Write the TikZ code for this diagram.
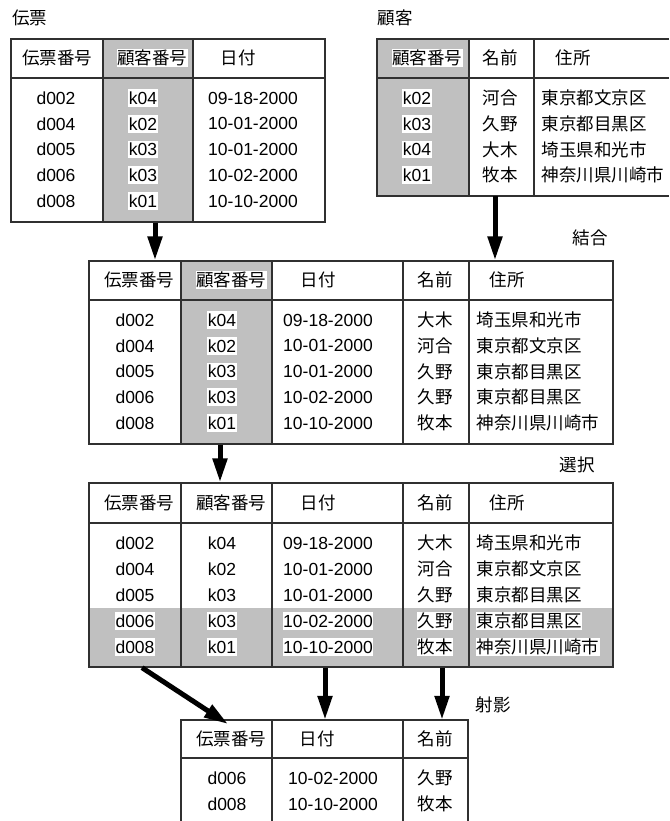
\documentclass[tikz,border=0pt]{standalone}
\usepackage{fontspec}
\setmainfont{Liberation Sans}
\newfontfamily\jp{Noto Sans CJK JP}
\usetikzlibrary{arrows.meta}
\definecolor{cellgray}{HTML}{C0C0C0}
\definecolor{linec}{HTML}{303030}
\tikzset{
  tline/.style={draw=linec, line width=1.3pt},
  tbox/.style={draw=linec, line width=1.3pt, inner sep=0pt},
  obox/.style={inner sep=0pt},
  lt/.style={font=\fontsize{17.5}{20}\selectfont, inner xsep=0.5pt, inner ysep=2.5pt},
  jt/.style={font=\jp\fontsize{17.5}{20}\selectfont, inner xsep=0.5pt, inner ysep=1pt},
  wb/.style={fill=white},
  plain/.style={},
  bigarrow/.style={line width=5pt, -{Triangle[length=24pt,width=14pt]}},
}
\begin{document}
\begin{tikzpicture}[x=1pt,y=-1pt]
\useasboundingbox (0,0) rectangle (669,821);

% ---------- titles / operation labels
\node[jt] (lbl1) at (30,18) {伝票};
\node[jt] (lbl2) at (395,18) {顧客};
\node[jt] (lbl3) at (590,238) {結合};
\node[jt] (lbl4) at (577,465) {選択};
\node[jt] (lbl5) at (493,705) {射影};

% ---------- table 1 (伝票)
\fill[cellgray] (103,39) rectangle (193,222);
\node[tbox, minimum width=314pt, minimum height=183pt] (T1) at (168,130.5) {};
\draw[tline] (11,78) -- (325,78);
\draw[tline] (103,39) -- (103,222);
\draw[tline] (193,39) -- (193,222);
\node[jt] (t1h1) at (57,58) {伝票番号};
\node[jt,wb] (t1h2) at (152,58) {顧客番号};
\node[jt] (t1h3) at (238,58) {日付};
\foreach \d/\k/\t [count=\i] in {d002/k04/09-18-2000, d004/k02/10-01-2000, d005/k03/10-01-2000, d006/k03/10-02-2000, d008/k01/10-10-2000}{
  \pgfmathsetmacro\yy{98+25.75*(\i-1)}
  \node[lt] (t1d\i) at (56,\yy) {\d};
  \node[lt,wb] (t1k\i) at (143,\yy) {\k};
  \node[lt] (t1t\i) at (253,\yy) {\t};
}

% ---------- table 2 (顧客)
\fill[cellgray] (377,39) rectangle (469,196);
\node[obox, minimum width=292pt, minimum height=157pt] (T2) at (523,117.5) {};
\draw[tline] (669,39) -- (377,39) -- (377,196) -- (669,196);
\draw[tline] (377,78) -- (669,78);
\draw[tline] (469,39) -- (469,196);
\draw[tline] (534,39) -- (534,196);
\node[jt,wb] (t2h1) at (427,58) {顧客番号};
\node[jt] (t2h2) at (500,58) {名前};
\node[jt] (t2h3) at (573,58) {住所};
\foreach \k/\n/\a [count=\i] in {k02/河合/東京都文京区, k03/久野/東京都目黒区, k04/大木/埼玉県和光市, k01/牧本/神奈川県川崎市}{
  \pgfmathsetmacro\yy{98+25.75*(\i-1)}
  \node[lt,wb] (t2k\i) at (417,\yy) {\k};
  \node[jt] (t2n\i) at (500,\yy) {\n};
  \node[jt,anchor=west] (t2a\i) at (541,\yy) {\a};
}

% ---------- table 3 (結合)
\fill[cellgray] (181,261) rectangle (272,444);
\node[tbox, minimum width=524pt, minimum height=183pt] (T3) at (351,352.5) {};
\draw[tline] (89,300) -- (613,300);
\foreach \xx in {181,272,403,469} \draw[tline] (\xx,261) -- (\xx,444);
\node[jt] (t3h1) at (139,280) {伝票番号};
\node[jt,wb] (t3h2) at (231,280) {顧客番号};
\node[jt] (t3h3) at (318,280) {日付};
\node[jt] (t3h4) at (435,280) {名前};
\node[jt] (t3h5) at (507,280) {住所};
\foreach \d/\k/\t/\n/\a [count=\i] in {d002/k04/09-18-2000/大木/埼玉県和光市, d004/k02/10-01-2000/河合/東京都文京区, d005/k03/10-01-2000/久野/東京都目黒区, d006/k03/10-02-2000/久野/東京都目黒区, d008/k01/10-10-2000/牧本/神奈川県川崎市}{
  \pgfmathsetmacro\yy{320+25.75*(\i-1)}
  \node[lt] (t3d\i) at (135,\yy) {\d};
  \node[lt,wb] (t3k\i) at (222,\yy) {\k};
  \node[lt] (t3t\i) at (328,\yy) {\t};
  \node[jt] (t3n\i) at (435,\yy) {\n};
  \node[jt,anchor=west] (t3a\i) at (476,\yy) {\a};
}

% ---------- table 4 (選択)
\fill[cellgray] (89,608) rectangle (613,667);
\node[tbox, minimum width=524pt, minimum height=184pt] (T4) at (351,575) {};
\draw[tline] (89,523) -- (613,523);
\foreach \xx in {181,272,403,469} \draw[tline] (\xx,483) -- (\xx,667);
\node[jt] (t4h1) at (139,503) {伝票番号};
\node[jt] (t4h2) at (231,503) {顧客番号};
\node[jt] (t4h3) at (318,503) {日付};
\node[jt] (t4h4) at (435,503) {名前};
\node[jt] (t4h5) at (507,503) {住所};
\foreach \d/\k/\t/\n/\a/\w [count=\i] in {d002/k04/09-18-2000/大木/埼玉県和光市/plain, d004/k02/10-01-2000/河合/東京都文京区/plain, d005/k03/10-01-2000/久野/東京都目黒区/plain, d006/k03/10-02-2000/久野/東京都目黒区/wb, d008/k01/10-10-2000/牧本/神奈川県川崎市/wb}{
  \pgfmathsetmacro\yy{543+26*(\i-1)}
  \node[lt,\w] (t4d\i) at (135,\yy) {\d};
  \node[lt,\w] (t4k\i) at (222,\yy) {\k};
  \node[lt,\w] (t4t\i) at (328,\yy) {\t};
  \node[jt,\w] (t4n\i) at (435,\yy) {\n};
  \node[jt,anchor=west,\w] (t4a\i) at (476,\yy) {\a};
}

% ---------- table 5 (射影)
\node[obox, minimum width=287pt, minimum height=101pt] (T5) at (324.5,770.5) {};
\draw[tline] (181,821) -- (181,720) -- (468,720) -- (468,821);
\draw[tline] (181,758) -- (468,758);
\foreach \xx in {272,403} \draw[tline] (\xx,720) -- (\xx,821);
\node[jt] (t5h1) at (231,739) {伝票番号};
\node[jt] (t5h2) at (317,739) {日付};
\node[jt] (t5h3) at (435,739) {名前};
\foreach \d/\t/\n [count=\i] in {d006/10-02-2000/久野, d008/10-10-2000/牧本}{
  \pgfmathsetmacro\yy{778+26*(\i-1)}
  \node[lt] (t5d\i) at (227,\yy) {\d};
  \node[lt] (t5t\i) at (333,\yy) {\t};
  \node[jt] (t5n\i) at (435,\yy) {\n};
}

% ---------- arrows
\coordinate (x155) at (155,0);
\coordinate (x495) at (495,0);
\coordinate (x220) at (220,0);
\coordinate (x142) at (142,0);
\coordinate (x325) at (325,0);
\coordinate (x442) at (442,0);
\coordinate (a4end) at (228,724);
\draw[bigarrow] (T1.south -| x155) -- (T3.north -| x155);
\draw[bigarrow] (T2.south -| x495) -- (T3.north -| x495);
\draw[bigarrow] (T3.south -| x220) -- (T4.north -| x220);
\draw[bigarrow] (T4.south -| x142) -- (a4end);
\draw[bigarrow] (T4.south -| x325) -- (T5.north -| x325);
\draw[bigarrow] (T4.south -| x442) -- (T5.north -| x442);
\end{tikzpicture}
\end{document}
